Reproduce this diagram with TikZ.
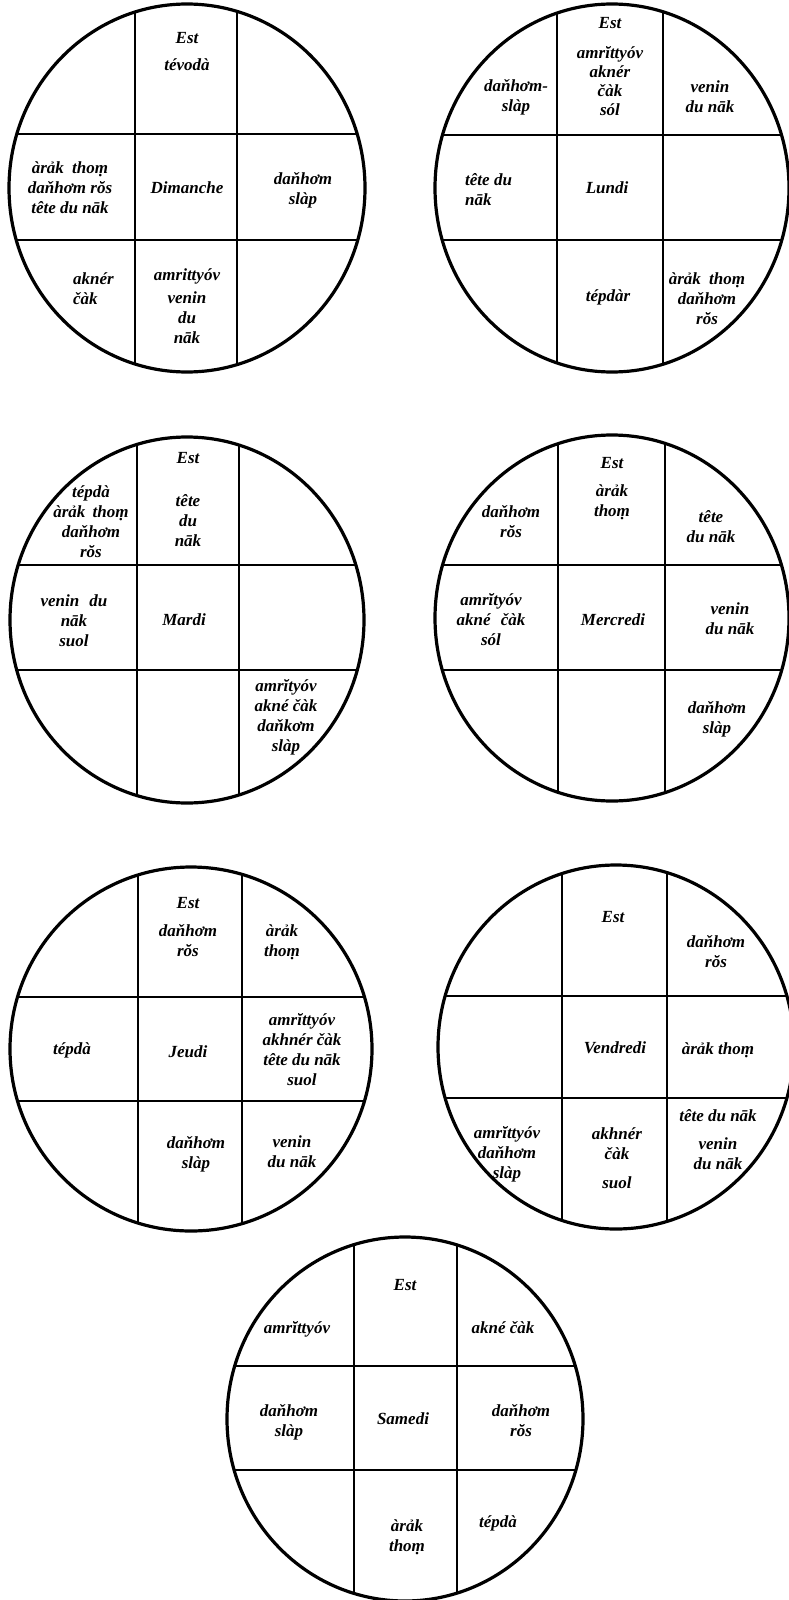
\documentclass[tikz,border=0pt]{standalone}
\usepackage{fontspec}
\setmainfont{Liberation Serif}
\newcommand\drawwheel[8]{% cx cy rx ry v1 v2 h1 h2
  \begin{scope}
    \clip (#1,#2) ellipse [x radius=#3pt, y radius=#4pt];
    \draw[gridln] (#5,#2-220) -- (#5,#2+220);
    \draw[gridln] (#6,#2-220) -- (#6,#2+220);
    \draw[gridln] (#1-220,#7) -- (#1+220,#7);
    \draw[gridln] (#1-220,#8) -- (#1+220,#8);
  \end{scope}
  \draw[rim] (#1,#2) ellipse [x radius=#3pt, y radius=#4pt];
}
\begin{document}
\begin{tikzpicture}[x=1pt,y=-1pt,
  rim/.style={line width=3.2pt},
  gridln/.style={line width=2.8pt},
  lab/.style={font=\fontsize{17}{20}\selectfont\bfseries\itshape, align=center, inner sep=0pt},
  labl/.style={lab, align=left, anchor=west},
]
\fill[white] (0,0) rectangle (788,1600);
\useasboundingbox (0,0) rectangle (788,1600);

% ---------- Dimanche ----------
\drawwheel{187}{188}{178}{184}{135}{237}{134}{240}
\node[lab] (d1est) at (187,38) {Est};
\node[lab] (d1top) at (187,65) {tévodà};
\node[lab] (d1left) at (70,188) {àrảk\hspace{4pt} thoṃ\\daňhơm rŏs\\tête du nāk};
\node[lab] (d1mid) at (187,188) {Dimanche};
\node[lab] (d1right) at (303,190) {daňhơm\\slàp};
\node[labl] (d1bl) at (73,289) {aknér\\čàk};
\node[lab] (d1bm) at (187,306) {amrittyóv\\[3pt]venin\\du\\nāk};

% ---------- Lundi ----------
\drawwheel{612}{188}{177}{184}{557}{663}{135}{240}
\node[lab] (d2est) at (610,23) {Est};
\node[lab, font=\fontsize{17}{19}\selectfont\bfseries\itshape] (d2top) at (610,81) {amrĭttyóv\\aknér\\čàk\\sól};
\node[lab] (d2tl) at (516,97) {daňhơm-\\slàp};
\node[lab] (d2tr) at (710,97) {venin\\du nāk};
\node[labl] (d2ml) at (465,190) {tête du\\nāk};
\node[lab] (d2mid) at (607,188) {Lundi};
\node[lab] (d2bm) at (608,297) {tépdàr};
\node[lab] (d2br) at (707,299) {àrảk\hspace{4pt} thoṃ\\daňhơm\\rŏs};

% ---------- Mardi ----------
\drawwheel{187}{620}{177}{183}{137}{239}{565}{670}
\node[lab] (d3est) at (188,458) {Est};
\node[lab] (d3top) at (188,521) {tête\\du\\nāk};
\node[lab] (d3tl) at (91,522) {tépdà\\àrảk\hspace{3pt} thoṃ\\daňhơm\\rŏs};
\node[lab] (d3ml) at (74,621) {venin\hspace{6pt} du\\nāk\\suol};
\node[lab] (d3mid) at (184,620) {Mardi};
\node[lab] (d3br) at (286,717) {amrĭtyóv\\akné čàk\\daňkơm\\slàp};

% ---------- Mercredi ----------
\drawwheel{612}{618}{177}{183}{558}{665}{565}{670}
\node[lab] (d4est) at (612,463) {Est};
\node[lab] (d4top) at (612,502) {àrảk\\thoṃ};
\node[lab] (d4tl) at (511,522) {daňhơm\\rŏs};
\node[lab] (d4tr) at (711,527) {tête\\du nāk};
\node[lab] (d4ml) at (491,620) {amrĭtyóv\\akné\hspace{6pt} čàk\\sól};
\node[lab] (d4mid) at (613,620) {Mercredi};
\node[lab] (d4mr) at (730,619) {venin\\du nāk};
\node[lab] (d4br) at (717,719) {daňhơm\\slàp};

% ---------- Jeudi ----------
\drawwheel{191}{1049}{181}{182}{138}{242}{997}{1101}
\node[lab] (d5est) at (188,903) {Est};
\node[lab] (d5top) at (188,941) {daňhơm\\rŏs};
\node[lab] (d5tr) at (282,942) {àrảk\\thoṃ};
\node[lab] (d5ml) at (72,1050) {tépdà};
\node[lab] (d5mid) at (188,1052) {Jeudi};
\node[lab] (d5mr) at (302,1050) {amrĭttyóv\\akhnér čàk\\tête du nāk\\suol};
\node[lab] (d5bm) at (196,1154) {daňhơm\\slàp};
\node[lab] (d5br) at (292,1152) {venin\\du nāk};

% ---------- Vendredi ----------
\drawwheel{616}{1047}{178}{182}{562}{667}{996}{1098}
\node[lab] (d6est) at (613,917) {Est};
\node[lab] (d6tr) at (716,952) {daňhơm\\rŏs};
\node[lab] (d6mid) at (615,1048) {Vendredi};
\node[lab] (d6mr) at (718,1050) {àrảk thoṃ};
\node[lab] (d6bl) at (507,1154) {amrĭttyóv\\daňhơm\\slàp};
\node[lab] (d6bm) at (617,1158) {akhnér\\čàk\\[9pt]suol};
\node[lab] (d6br) at (718,1140) {tête du nāk\\[8pt]venin\\du nāk};

% ---------- Samedi ----------
\drawwheel{405}{1419}{178}{182}{354}{457}{1366}{1470}
\node[lab] (d7est) at (405,1285) {Est};
\node[lab] (d7tl) at (297,1329) {amrĭttyóv};
\node[lab] (d7tr) at (503,1328) {akné čàk};
\node[lab] (d7ml) at (289,1422) {daňhơm\\slàp};
\node[lab] (d7mid) at (403,1419) {Samedi};
\node[lab] (d7mr) at (521,1421) {daňhơm\\rŏs};
\node[lab] (d7bm) at (407,1537) {àrảk\\thoṃ};
\node[lab] (d7br) at (498,1523) {tépdà};
\end{tikzpicture}
\end{document}
